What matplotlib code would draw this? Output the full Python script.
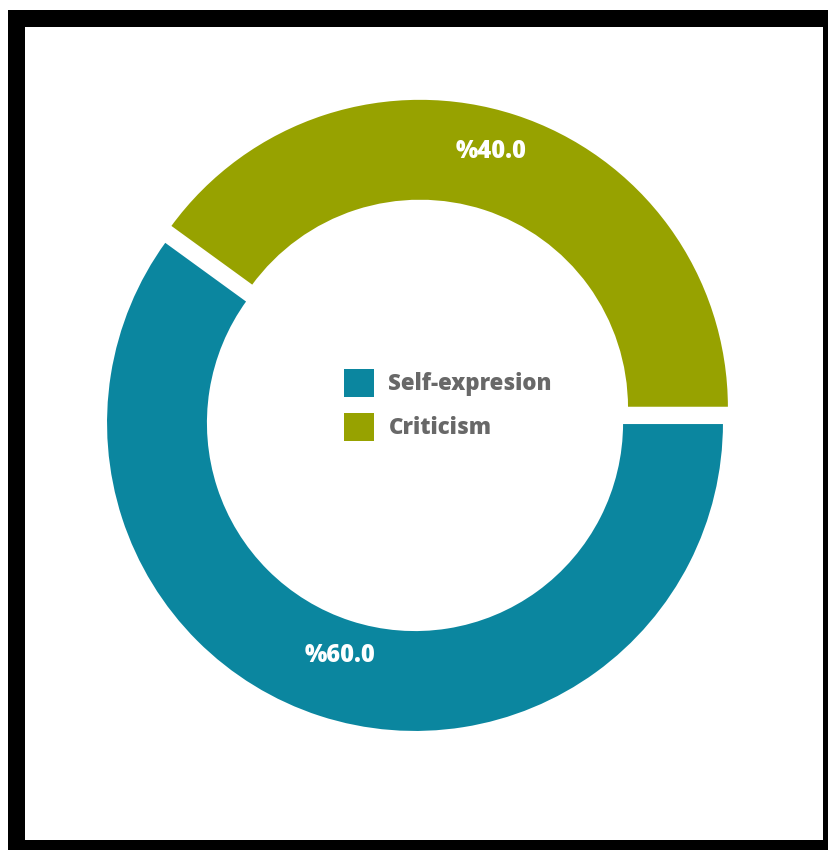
import numpy as np
import matplotlib.pyplot as plt
from matplotlib.patches import Rectangle, Patch

categories = ["Criticism", "Self-expresion"]
shares = [40.0, 60.0]
colors = ["#97a200", "#0b869f"]
legend_order = ["Self-expresion", "Criticism"]

FONT = ["Open Sans", "DejaVu Sans"]

fig = plt.figure(figsize=(8.29, 8.50), dpi=100)
fig.patch.set_facecolor("white")

# thick black frame around the panel
fig.patches.append(Rectangle((8 / 829, 0.0), 1.0, 840 / 850, transform=fig.transFigure,
                             facecolor="black", edgecolor="none", zorder=-2))
fig.patches.append(Rectangle((25 / 829, 10 / 850), (823 - 25) / 829, (823 - 10) / 850,
                             transform=fig.transFigure, facecolor="white",
                             edgecolor="none", zorder=-1))

ax = fig.add_axes([0, 0, 1, 1], zorder=1)
ax.patch.set_visible(False)

R = 309
wedges, texts, autotexts = ax.pie(
    shares,
    colors=colors,
    startangle=0,
    counterclock=True,
    center=(415, 427),
    radius=R,
    explode=[16, 0],
    autopct=lambda p: f"%{p:.1f}",
    pctdistance=0.83,
    wedgeprops=dict(width=0.33 * R, edgecolor="white", linewidth=1.5),
    textprops=dict(color="white", fontsize=17, fontweight="heavy", family=FONT),
    frame=True,
)

# nudge each percentage along its wedge's bisector
label_dist = [0.86, 0.79]
label_rot = [2.5, 0.0]
for w, t, d, r in zip(wedges, autotexts, label_dist, label_rot):
    mid = np.deg2rad((w.theta1 + w.theta2) / 2 + r)
    cx, cy = w.center
    t.set_position((cx + d * R * np.cos(mid), cy + d * R * np.sin(mid)))

ax.set_xlim(0, 829)
ax.set_ylim(0, 850)
ax.set_aspect("equal")
ax.axis("off")

handles = [Patch(facecolor=colors[categories.index(n)], edgecolor="none") for n in legend_order]
ax.legend(handles, legend_order, loc="center", bbox_to_anchor=(448 / 829, 1 - 405 / 850),
          bbox_transform=fig.transFigure, frameon=False, handlelength=1.35, handleheight=1.57,
          handletextpad=0.65, labelspacing=0.72,
          prop=dict(family=FONT, weight="heavy", size=16),
          labelcolor="#686868")

fig.savefig("out.png", dpi=100, facecolor="white")
